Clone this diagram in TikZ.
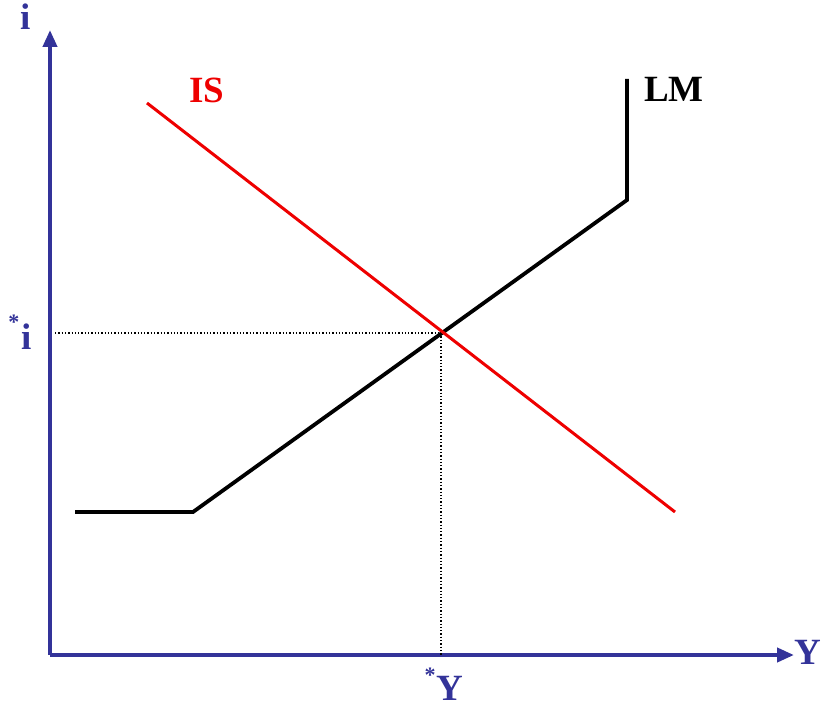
\documentclass[tikz,border=0pt]{standalone}
\usepackage{fontspec}
\setmainfont{Liberation Serif}
\usetikzlibrary{arrows.meta}
\definecolor{axisblue}{RGB}{51,51,153}
\definecolor{isred}{RGB}{238,0,0}
\begin{document}
\begin{tikzpicture}[x=1pt,y=-1pt,
  axis/.style={axisblue,line width=4pt,-{Triangle[length=17pt,width=14pt]}},
  lab/.style={inner sep=0pt,font=\fontsize{37}{37}\selectfont\bfseries},
  star/.style={inner sep=0pt,font=\fontsize{22}{22}\selectfont\bfseries,axisblue},
  guide/.style={black,line width=1.3pt,dash pattern=on 1.3pt off 2pt},
  curve/.style={line width=3.8pt}]
\useasboundingbox (0,0) rectangle (822,709);
% axes
\coordinate (O) at (50,655);
\coordinate (ytop) at (50,30);
\coordinate (xend) at (794,655);
\draw[axis] (O) -- (ytop);
\draw[axis] (O) -- (xend);
\node[lab,axisblue] (ilab) at (26,17) {i};
\node[lab,axisblue] (Ylab) at (808,652) {Y};
% equilibrium
\coordinate (E) at (441,333);
\coordinate (Ei) at (55,333);
\coordinate (EY) at (441,655);
\draw[guide] (Ei) -- (E) -- (EY);
\node[lab,axisblue] (istar) at (27,337) {i};
\node[star] (istarmark) at (14,322) {*};
\node[lab,axisblue] (Ystar) at (450,688) {Y};
\node[star] (Ystarmark) at (430,675) {*};
% LM curve
\coordinate (LM1) at (75,512);
\coordinate (LM2) at (193,512);
\coordinate (LM3) at (627,200);
\coordinate (LM4) at (627,79);
\draw[curve,black,line join=miter] (LM1) -- (LM2) -- (LM3) -- (LM4);
\node[lab,black] (LMlab) at (674,89) {LM};
% IS curve
\coordinate (IS1) at (147,103);
\coordinate (IS2) at (675,512);
\draw[isred,line width=3pt] (IS1) -- (IS2);
\node[lab,isred] (ISlab) at (207,90) {IS};
\end{tikzpicture}
\end{document}
